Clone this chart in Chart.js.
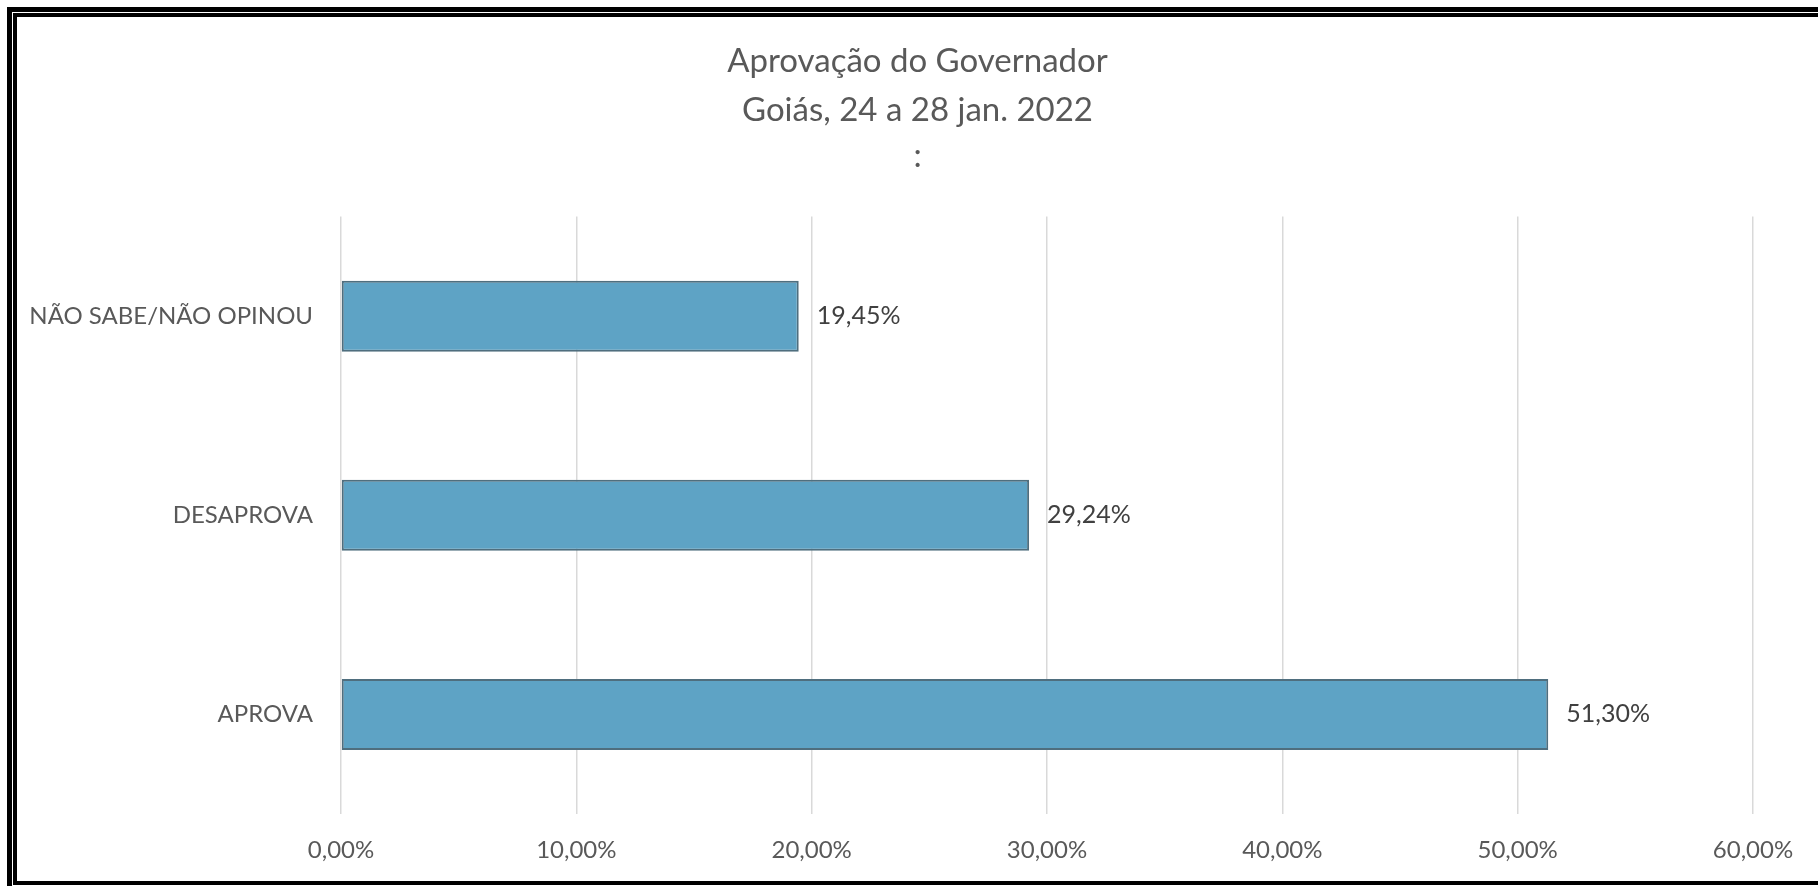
<!DOCTYPE html>
<html lang="pt">
<head>
    <meta charset="UTF-8">
    <title>Aprovação do Governador</title>
    <script src="https://cdn.jsdelivr.net/npm/chart.js"></script>
    <style>
        body { margin: 0; background: #fff; overflow: hidden; }
        .wrap { position: relative; width: 1818px; height: 886px; overflow: hidden; }
        .frame-outer { position: absolute; left: 7px; top: 7px; width: 1840px; height: 884px; border: 5px solid #000; box-sizing: border-box; pointer-events: none; }
        .frame-inner { position: absolute; left: 13px; top: 13px; width: 1830px; height: 872px; border: 4px solid #000; box-sizing: border-box; pointer-events: none; }
    </style>
</head>
<body>
    <div class="wrap">
        <canvas id="approvalChart"></canvas>
        <div class="frame-outer"></div>
        <div class="frame-inner"></div>
    </div>

    <script>
        // dados da pesquisa
        const categories = ['APROVA', 'DESAPROVA', 'NÃO SABE/NÃO OPINOU'];
        const values = [51.30, 29.24, 19.45];
        const titleLines = ['Aprovação do Governador', 'Goiás, 24 a 28 jan. 2022'];
        const subtitleText = ':';

        const fontFamily = 'Lato, "Open Sans", sans-serif';

        function fmtPct(v) {
            return v.toFixed(2).replace('.', ',') + '%';
        }

        // rótulos de valor ao lado das barras
        const valueLabels = {
            id: 'valueLabels',
            afterDatasetsDraw(chart) {
                const ctx = chart.ctx;
                const meta = chart.getDatasetMeta(0);
                ctx.save();
                ctx.font = '25px ' + fontFamily;
                ctx.fillStyle = '#404040';
                ctx.textAlign = 'left';
                ctx.textBaseline = 'middle';
                meta.data.forEach((bar, i) => {
                    ctx.fillText(fmtPct(values[i]), bar.x + 18, bar.y);
                });
                ctx.restore();
            }
        };

        const data = {
            labels: categories,
            datasets: [{
                data: values,
                backgroundColor: '#5EA3C5',
                borderColor: '#4F6E7E',
                borderWidth: 2,
                borderSkipped: false,
                categoryPercentage: 1,
                barPercentage: 0.357
            }]
        };

        const config = {
            type: 'bar',
            data: data,
            options: {
                indexAxis: 'y',
                responsive: true,
                maintainAspectRatio: false,
                animation: false,
                layout: { padding: { left: 17, top: 17, right: 0, bottom: 0 } },
                plugins: {
                    legend: { display: false },
                    tooltip: { enabled: false },
                    title: {
                        display: true,
                        text: titleLines,
                        color: '#595959',
                        font: { family: fontFamily, size: 33, weight: 'normal', lineHeight: 1.485 },
                        padding: { top: 20, bottom: 0 }
                    },
                    subtitle: {
                        display: true,
                        text: subtitleText,
                        color: '#595959',
                        font: { family: fontFamily, size: 33, weight: 'normal', lineHeight: 1.2 },
                        padding: { top: 2, bottom: 40 }
                    }
                },
                scales: {
                    x: {
                        min: 0,
                        max: 60,
                        ticks: {
                            stepSize: 10,
                            color: '#595959',
                            font: { family: fontFamily, size: 24 },
                            padding: 22,
                            callback: (v) => fmtPct(v)
                        },
                        grid: { color: '#D9D9D9', lineWidth: 1.5, drawTicks: false },
                        border: { display: false },
                        afterFit(scale) {
                            scale.height = 72;
                            scale.paddingLeft = 0;
                            scale.paddingRight = 65;
                        }
                    },
                    y: {
                        reverse: true,
                        ticks: {
                            color: '#595959',
                            font: { family: fontFamily, size: 24 },
                            padding: 28
                        },
                        grid: { display: false, drawTicks: false },
                        border: { display: false },
                        afterFit(scale) {
                            scale.width = 324;
                        }
                    }
                }
            },
            plugins: [valueLabels]
        };

        const approvalChart = new Chart(
            document.getElementById('approvalChart'),
            config
        );
    </script>
</body>
</html>
